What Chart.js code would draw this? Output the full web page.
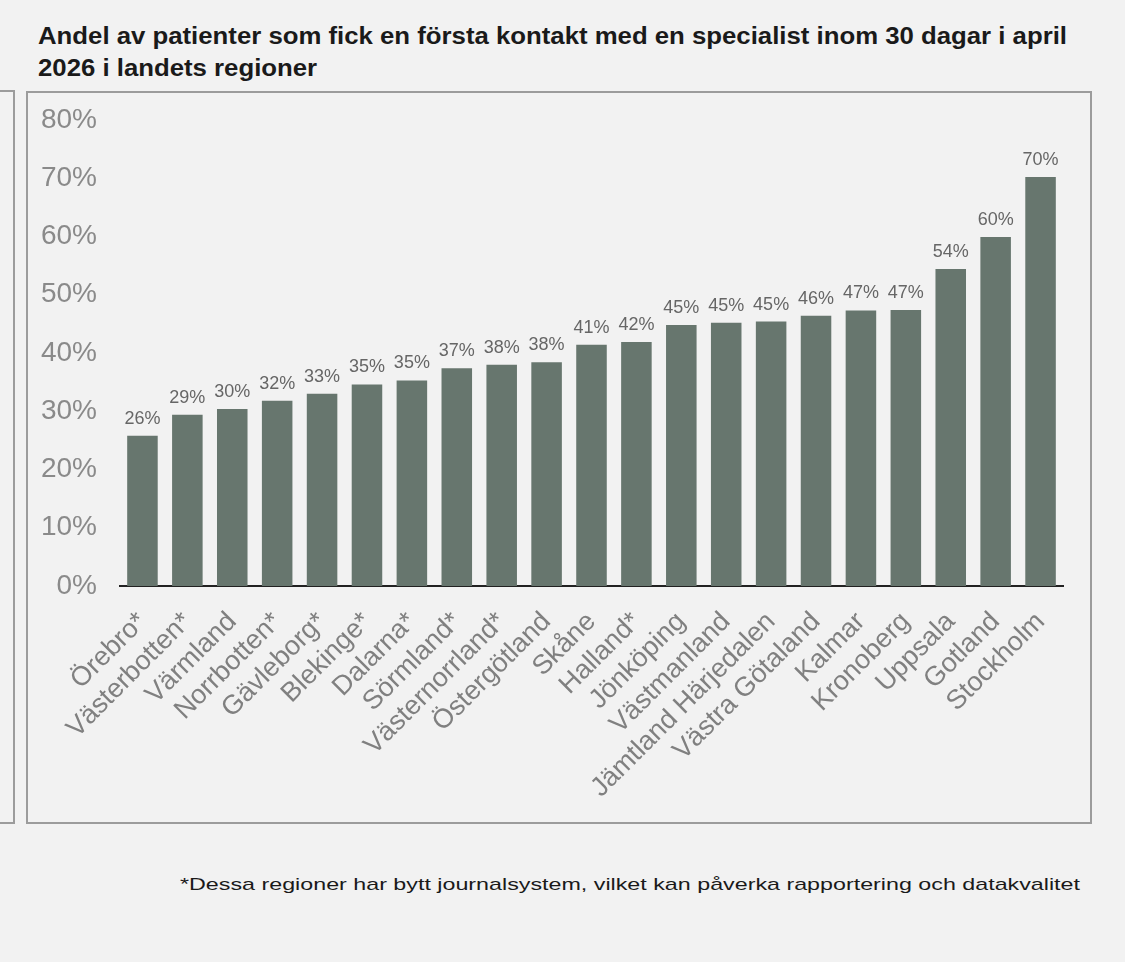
<!DOCTYPE html>
<html>
<head>
<meta charset="utf-8">
<script src="https://cdn.jsdelivr.net/npm/chart.js@4.4.1/dist/chart.umd.min.js"></script>
<style>
  html, body { margin: 0; padding: 0; background: #f2f2f2; }
  body { width: 1125px; height: 962px; position: relative; overflow: hidden; font-family: "Liberation Sans", Arial, sans-serif; }
  .title { position: absolute; left: 38px; top: 20px; font-size: 23px; font-weight: bold; color: #1a1a1a; line-height: 32px; }
  .title span, .note span { display: inline-block; white-space: nowrap; transform-origin: left center; }
  .box { position: absolute; border: 2px solid #9c9c9c; box-sizing: border-box; }
  .note { position: absolute; left: 180px; top: 874px; font-size: 17px; color: #1a1a1a; line-height: 22px; }
  #wrap { position: absolute; left: 0; top: 0; width: 1125px; height: 962px; }
</style>
</head>
<body>
<div class="box" style="left:-20px; top:90px; width:35px; height:734px;"></div>
<div class="box" style="left:26px; top:91px; width:1066px; height:733px;"></div>
<div class="title">
  <span id="t1">Andel av patienter som fick en första kontakt med en specialist inom 30 dagar i april</span><br>
  <span id="t2">2026 i landets regioner</span>
</div>
<div class="note"><span id="fot">*Dessa regioner har bytt journalsystem, vilket kan påverka rapportering och datakvalitet</span></div>
<div id="wrap"><canvas id="myChart" width="1125" height="962"></canvas></div>

<script>
const regioner = ["Örebro*", "Västerbotten*", "Värmland", "Norrbotten*", "Gävleborg*", "Blekinge*",
  "Dalarna*", "Sörmland*", "Västernorrland*", "Östergötland", "Skåne", "Halland*", "Jönköping",
  "Västmanland", "Jämtland Härjedalen", "Västra Götaland", "Kalmar", "Kronoberg", "Uppsala",
  "Gotland", "Stockholm"];
const andel = [25.8, 29.4, 30.4, 31.8, 33.0, 34.6, 35.3, 37.4, 38.0, 38.4, 41.4, 41.9, 44.8,
  45.2, 45.4, 46.4, 47.3, 47.4, 54.4, 59.9, 70.2];
const yMax = 80;
const yStep = 10;

// stretch texts to the widths in the picture
const t1 = document.getElementById("t1");
const k = 1029 / t1.getBoundingClientRect().width;
t1.style.transform = "scaleX(" + k + ")";
document.getElementById("t2").style.transform = "scaleX(" + k + ")";
const fot = document.getElementById("fot");
fot.style.transform = "scaleX(" + (900 / fot.getBoundingClientRect().width) + ")";

const etiketter = {
  id: "etiketter",
  afterDatasetsDraw(chart) {
    const ctx = chart.ctx;
    const meta = chart.getDatasetMeta(0);
    ctx.save();
    ctx.font = '18px "Liberation Sans", Arial, sans-serif';
    ctx.fillStyle = "#666666";
    ctx.textAlign = "center";
    ctx.textBaseline = "alphabetic";
    meta.data.forEach((bar, i) => {
      ctx.fillText(Math.round(andel[i]) + "%", bar.x, bar.y - 12);
    });
    ctx.restore();
  },
};

const ctx = document.getElementById("myChart").getContext("2d");
window.grafica = new Chart(ctx, {
  type: "bar",
  data: {
    labels: regioner,
    datasets: [
      {
        label: "Andel",
        data: andel,
        backgroundColor: "#67766e",
        categoryPercentage: 1,
        barPercentage: 0.68,
      },
    ],
  },
  options: {
    responsive: false,
    animation: false,
    devicePixelRatio: 1,
    layout: { padding: { top: 120, right: 62, left: 0, bottom: 0 } },
    plugins: { legend: { display: false }, tooltip: { enabled: false } },
    scales: {
      x: {
        grid: { display: false, drawTicks: false },
        border: { color: "#222222", width: 2 },
        ticks: {
          color: "#808080",
          font: { family: '"Liberation Sans", Arial, sans-serif', size: 27 },
          maxRotation: 45,
          minRotation: 45,
          padding: 20,
          autoSkip: false,
        },
        afterFit: (s) => { s.height = 376; },
      },
      y: {
        min: 0,
        max: yMax,
        grid: { display: false, drawTicks: false },
        border: { display: false },
        ticks: {
          stepSize: yStep,
          color: "#8a8a8a",
          font: { family: '"Liberation Sans", Arial, sans-serif', size: 28 },
          padding: 23,
          callback: (v) => v + "%",
        },
        afterFit: (s) => { s.width = 120; },
      },
    },
  },
  plugins: [etiketter],
});
</script>
</body>
</html>
